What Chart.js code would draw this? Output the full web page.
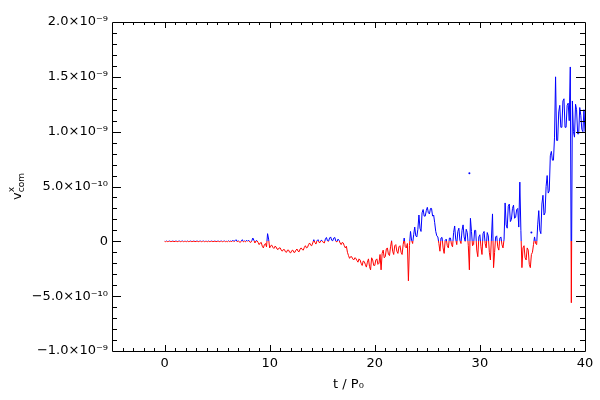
<!DOCTYPE html>
<html>
<head>
<meta charset="utf-8">
<script src="https://cdn.jsdelivr.net/npm/chart.js@4"></script>
<style>
  html, body { margin: 0; padding: 0; background: #fff; }
</style>
</head>
<body>
<canvas id="myChart" width="600" height="400"></canvas>
<script>
// time sampling, in units of P0
const T0 = 0;
const DT = 0.1;

// v^x_com in units of 1e-10, one value every DT from t = 0 to t = 40
const vxCom = [
  0, -0.03, 0.03, -0.03, 0, 0.03, -0.03, 0, 0.03, -0.03, 0, 0.03, -0.03, 0, 0.03, -0.03, 0, 0.03, -0.03, 0,
  0, -0.03, 0.03, -0.03, 0, 0.03, -0.03, 0, 0.03, -0.03, 0, 0.03, -0.03, 0, 0.03, -0.03, 0, 0.03, -0.03, 0,
  0, -0.03, 0.03, -0.03, 0, 0.03, -0.03, 0, 0.03, -0.03, 0, 0.03, -0.03, 0, 0.03, -0.03, 0, 0.03, -0.03, 0,
  -0.03, 0.05, -0.03, 0.03, -0.03, 0.1, -0.03, 0.05, 0.15, -0.03, 0.05, -0.03, -0.1, 0.03, 0.15, -0.05, 0.03, -0.05, 0.1, 0,
  0.1, -0.05, -0.1, 0.05, 0.3, 0.1, -0.15, 0.05, 0.05, -0.1, -0.3, -0.15, -0.1, -0.45, -0.6, -0.3, -0.2, -0.5, 0.7, 0.2,
  -0.6, -0.4, -0.35, -0.55, -0.65, -0.45, -0.5, -0.7, -0.75, -0.6, -0.6, -0.8, -0.9, -0.75, -0.75, -0.95, -1.0, -0.8, -0.8, -1.0,
  -1.05, -0.85, -0.8, -1.0, -1.0, -0.8, -0.7, -0.9, -0.95, -0.7, -0.6, -0.75, -0.8, -0.55, -0.4, -0.6, -0.55, -0.3, -0.15, -0.35,
  -0.4, -0.15, 0.15, -0.1, -0.25, 0.05, 0.15, -0.1, -0.1, 0.1, 0.05, -0.1, -0.15, 0.2, 0.35, 0.05, 0.0, 0.3, 0.4, 0.1,
  0.05, 0.3, 0.35, 0.0, -0.05, 0.2, 0.1, -0.15, -0.3, -0.1, -0.15, -0.4, -0.6, -0.45, -1.0, -1.3, -1.55, -1.4, -1.4, -1.6,
  -1.7, -1.5, -1.55, -1.75, -1.9, -1.6, -1.7, -2.0, -2.2, -1.8, -1.85, -2.1, -2.35, -1.9, -1.6, -2.3, -2.6, -1.5, -1.7, -2.2,
  -2.2, -1.7, -1.6, -2.1, -2.0, -1.2, -2.6, -1.1, -0.8, -1.5, -1.4, -0.7, -0.6, -1.2, -1.3, -0.5, 0.05, -0.9, -1.2, -0.4,
  -0.3, -0.9, -1.1, -0.5, -0.4, -1.0, -1.2, -0.3, 0.3, -0.5, -0.6, -0.2, -3.6, -0.4, 0.9, 0.1, -0.2, 0.6, 1.3, 0.5,
  0.4, 1.1, 2.4, 1.2, 0.9, 2.6, 2.9, 2.3, 2.3, 2.8, 3.1, 2.6, 2.5, 3.0, 3.0, 2.3, 2.4, 1.7, 0.9, 0.5,
  0.4, -0.2, -0.9, 0.3, 0.35, -0.6, -1.1, 0.1, 0.2, -0.4, -0.6, 0.3, 0.3, -0.3, -0.5, 0.8, 1.4, 0.2, -0.3, 0.9,
  1.2, 0.1, -0.2, 1.0, 1.5, 0.4, 0.0, 1.1, 0.8, -0.4, -2.6, 2.1, 0.9, -0.4, -0.3, 1.0, 1.0, -0.8, -1.4, 0.4,
  0.6, -0.5, -1.2, 0.7, 0.9, -0.2, -0.6, 0.8, 0.5, -1.0, -1.7, 0.3, 2.5, -2.4, -1.0, 0.4, 0.5, -0.5, -0.8, 0.3,
  0.4, -0.3, -0.6, 0.2, 3.5, 1.5, 1.2, 3.2, 3.4, 1.8, 2.0, 3.0, 3.3, 2.1, 2.2, 2.9, 3.0, 1.3, 5.4, 1.0,
  -2.4, -0.6, -0.4, -1.5, -1.7, -0.6, -0.8, -2.1, -2.4, -1.2, -1.0, -0.3, 0.4, -0.2, -0.3, 1.5, 2.8, 1.0, 0.7, 3.4,
  4.2, 2.4, 2.6, 5.0, 6.0, 4.4, 4.6, 7.8, 8.2, 7.4, 7.4, 9.5, 15.0, 9.2, 9.2, 11.8, 12.4, 10.4, 10.4, 12.8,
  13.0, 10.4, 10.4, 12.4, 12.6, 11.0, 15.9, -5.6, 12.8, 10.0, 9.5, 12.5, 12.0, 9.8, 9.8, 12.2, 11.5, 10.2, 10.0, 12.0,
  10.0
];

// a few isolated samples sitting off the band
const strayT = [29.0, 34.9];
const strayV = [6.2, 0.8];

const xTicks = [0, 10, 20, 30, 40];
const yTicks = [-1e-9, -5e-10, 0, 5e-10, 1e-9, 1.5e-9, 2e-9];
const yTickLabels = ['\u22121.0\u00d710\u207b\u2079', '\u22125.0\u00d710\u207b\u00b9\u2070', '0',
  '5.0\u00d710\u207b\u00b9\u2070', '1.0\u00d710\u207b\u2079', '1.5\u00d710\u207b\u2079', '2.0\u00d710\u207b\u2079'];

const FONT = 'DejaVu Sans';

const points = vxCom.map((v, i) => ({ x: T0 + i * DT, y: v * 1e-10 }));
const strays = strayT.map((t, i) => ({ x: t, y: strayV[i] * 1e-10 }));

// blue above zero, red below
const signColor = (context) => {
  const chart = context.chart;
  const area = chart.chartArea;
  if (!area) return '#0000ff';
  const y0 = chart.scales.y.getPixelForValue(0);
  const f = Math.min(1, Math.max(0, (y0 - area.top) / (area.bottom - area.top)));
  const g = chart.ctx.createLinearGradient(0, area.top, 0, area.bottom);
  g.addColorStop(0, '#0000ff');
  g.addColorStop(f, '#0000ff');
  g.addColorStop(f, '#ff0000');
  g.addColorStop(1, '#ff0000');
  return g;
};

// IDL style box with inward ticks on all four sides, plus the y title
const boxPlugin = {
  id: 'box',
  afterDraw(chart) {
    const ctx = chart.ctx;
    const a = chart.chartArea;
    const xs = chart.scales.x;
    const ys = chart.scales.y;
    ctx.save();
    ctx.strokeStyle = '#000';
    ctx.lineWidth = 1;
    ctx.beginPath();
    ctx.rect(Math.round(a.left) + 0.5, Math.round(a.top) + 0.5,
      Math.round(a.right - a.left), Math.round(a.bottom - a.top));
    const xTick = (v, len) => {
      const px = Math.round(xs.getPixelForValue(v)) + 0.5;
      ctx.moveTo(px, a.bottom); ctx.lineTo(px, a.bottom - len);
      ctx.moveTo(px, a.top); ctx.lineTo(px, a.top + len);
    };
    const yTick = (v, len) => {
      const py = Math.round(ys.getPixelForValue(v)) + 0.5;
      ctx.moveTo(a.left, py); ctx.lineTo(a.left + len, py);
      ctx.moveTo(a.right, py); ctx.lineTo(a.right - len, py);
    };
    for (let t = -4; t < 40; t++) xTick(t, t % 10 === 0 ? 6 : 3);
    for (let k = -9; k < 20; k++) yTick(k * 1e-10, k % 5 === 0 ? 9 : 5);
    ctx.stroke();

    // y title: v with superscript x and subscript com
    ctx.fillStyle = '#000';
    ctx.translate(21, (a.top + a.bottom) / 2);
    ctx.rotate(-Math.PI / 2);
    ctx.textBaseline = 'alphabetic';
    ctx.textAlign = 'left';
    ctx.font = '13px "' + FONT + '"';
    const vw = ctx.measureText('v').width;
    ctx.font = '9px "' + FONT + '"';
    const sw = Math.max(ctx.measureText('x').width, ctx.measureText('com').width);
    const x0 = -(vw + sw) / 2;
    ctx.font = '13px "' + FONT + '"';
    ctx.fillText('v', x0, 0);
    ctx.font = '9px "' + FONT + '"';
    ctx.fillText('x', x0 + vw, -7);
    ctx.fillText('com', x0 + vw, 3);
    ctx.restore();
  }
};

const ctx = document.getElementById('myChart');
new Chart(ctx, {
  type: 'line',
  data: {
    datasets: [
      {
        data: points,
        borderColor: signColor,
        borderWidth: 1,
        pointRadius: 0,
        tension: 0,
        fill: false
      },
      {
        type: 'scatter',
        data: strays,
        pointRadius: 1,
        pointBorderWidth: 0,
        backgroundColor: '#0000ff'
      }
    ]
  },
  options: {
    responsive: false,
    animation: false,
    layout: { padding: { top: 22, right: 15, left: 0, bottom: 0 } },
    plugins: { legend: { display: false }, tooltip: { enabled: false } },
    scales: {
      x: {
        type: 'linear',
        min: -5,
        max: 40,
        grid: { display: false, drawTicks: false },
        border: { display: false },
        afterBuildTicks: (scale) => { scale.ticks = xTicks.map(v => ({ value: v })); },
        afterFit: (scale) => { scale.height = 49; },
        ticks: {
          color: '#000',
          padding: 5,
          maxRotation: 0,
          font: { family: FONT, size: 13 }
        },
        title: {
          display: true,
          text: 't / P\u2080',
          color: '#000',
          font: { family: FONT, size: 13 },
          padding: { top: 0, bottom: 8 }
        }
      },
      y: {
        min: -1e-9,
        max: 2e-9,
        grid: { display: false, drawTicks: false },
        border: { display: false },
        afterBuildTicks: (scale) => { scale.ticks = yTicks.map(v => ({ value: v })); },
        afterFit: (scale) => { scale.width = 112; },
        ticks: {
          color: '#000',
          padding: 4,
          font: { family: FONT, size: 13 },
          callback: (value, index) => yTickLabels[index]
        }
      }
    }
  },
  plugins: [boxPlugin]
});
</script>
</body>
</html>
